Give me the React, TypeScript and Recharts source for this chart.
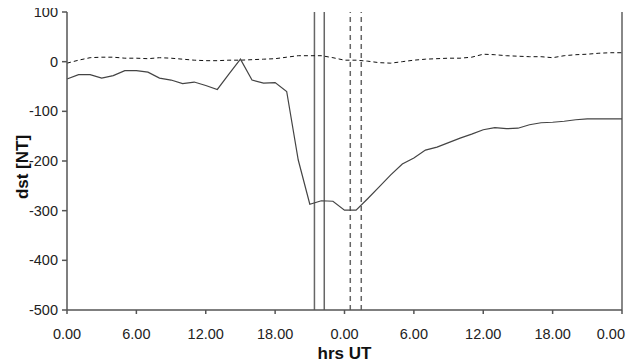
import React from 'react';
import { LineChart, Line, XAxis, YAxis, ReferenceLine, Label } from 'recharts';

// hours since start of first day
const hours = [
  0, 1, 2, 3, 4, 5, 6, 7, 8, 9, 10, 11, 12, 13, 14, 15, 16, 17, 18, 19, 20, 21, 22, 23, 24,
  25, 26, 27, 28, 29, 30, 31, 32, 33, 34, 35, 36, 37, 38, 39, 40, 41, 42, 43, 44, 45, 46, 47, 48,
];

const dstStorm = [
  -35, -26, -26, -33, -28, -18, -18, -21, -33, -37, -44, -41, -48, -56, -25, 5, -37, -43, -42, -60,
  -198, -287, -280, -281, -299, -299, -276, -252, -228, -206, -194, -178, -172, -163, -154, -146,
  -137, -133, -135, -134, -127, -123, -122, -120, -117, -115, -115, -115, -115,
];

const dstQuiet = [
  -3, 3, 8, 9, 9, 7, 7, 6, 8, 7, 5, 3, 2, 2, 3, 3, 4, 5, 6, 9, 12, 12, 12, 8, 3, 3, 1, -2, -3, 0,
  3, 5, 6, 7, 7, 9, 15, 14, 12, 11, 10, 10, 8, 12, 14, 15, 17, 18, 18,
];

const xTicks = [0, 6, 12, 18, 24, 30, 36, 42, 48];
const yTicks = [-500, -400, -300, -200, -100, 0, 100];

const solidMarkers = [21.4, 22.25];
const dashedMarkers = [24.5, 25.45];

const data = hours.map((h, i) => ({ h, storm: dstStorm[i], quiet: dstQuiet[i] }));

const font = '"Liberation Sans", Arial, sans-serif';
const axisColor = '#555';

const HourTick = (props: any) => {
  const { x, y, payload } = props;
  const last = payload.value === 48;
  return (
    <text
      x={last ? x + 3 : x}
      y={y + 23}
      textAnchor={last ? 'end' : 'middle'}
      fill="#222"
      fontSize={14.5}
      fontFamily={font}
    >
      {(payload.value % 24).toFixed(2)}
    </text>
  );
};

const App = () => {
  return (
    <div style={{ margin: '-8px 0 0 -8px', width: 636, height: 362 }}>
      <LineChart width={636} height={362} data={data} margin={{ top: 12, right: 14, bottom: 0, left: 0 }}>
        <XAxis
          dataKey="h"
          type="number"
          domain={[0, 48]}
          ticks={xTicks}
          height={52}
          tickSize={4}
          stroke={axisColor}
          strokeWidth={1.5}
          tick={<HourTick />}
        >
          <Label
            value="hrs UT"
            position="insideBottom"
            offset={3}
            style={{ fontFamily: font, fontSize: 17, fontWeight: 'bold', fill: '#111' }}
          />
        </XAxis>
        <YAxis
          type="number"
          domain={[-500, 100]}
          ticks={yTicks}
          width={67}
          tickSize={5}
          tickMargin={4}
          stroke={axisColor}
          strokeWidth={1.5}
          tick={{ fill: '#222', fontSize: 14.5, fontFamily: font }}
        >
          <Label
            value="dst [NT]"
            angle={-90}
            position="center"
            dx={-12}
            dy={6}
            style={{ fontFamily: font, fontSize: 17, fontWeight: 'bold', fill: '#111' }}
          />
        </YAxis>
        {solidMarkers.map((x) => (
          <ReferenceLine key={`s${x}`} x={x} stroke="#666" strokeWidth={1.5} />
        ))}
        {dashedMarkers.map((x) => (
          <ReferenceLine key={`d${x}`} x={x} stroke="#666" strokeWidth={1.5} strokeDasharray="5 4" />
        ))}
        <ReferenceLine x={48} stroke="#888" strokeWidth={2} />
        <Line
          type="linear"
          dataKey="quiet"
          stroke="#111"
          strokeWidth={1}
          strokeDasharray="4 3"
          dot={false}
          isAnimationActive={false}
        />
        <Line
          type="linear"
          dataKey="storm"
          stroke="#444"
          strokeWidth={1.2}
          dot={false}
          isAnimationActive={false}
        />
      </LineChart>
    </div>
  );
};

export default App;
